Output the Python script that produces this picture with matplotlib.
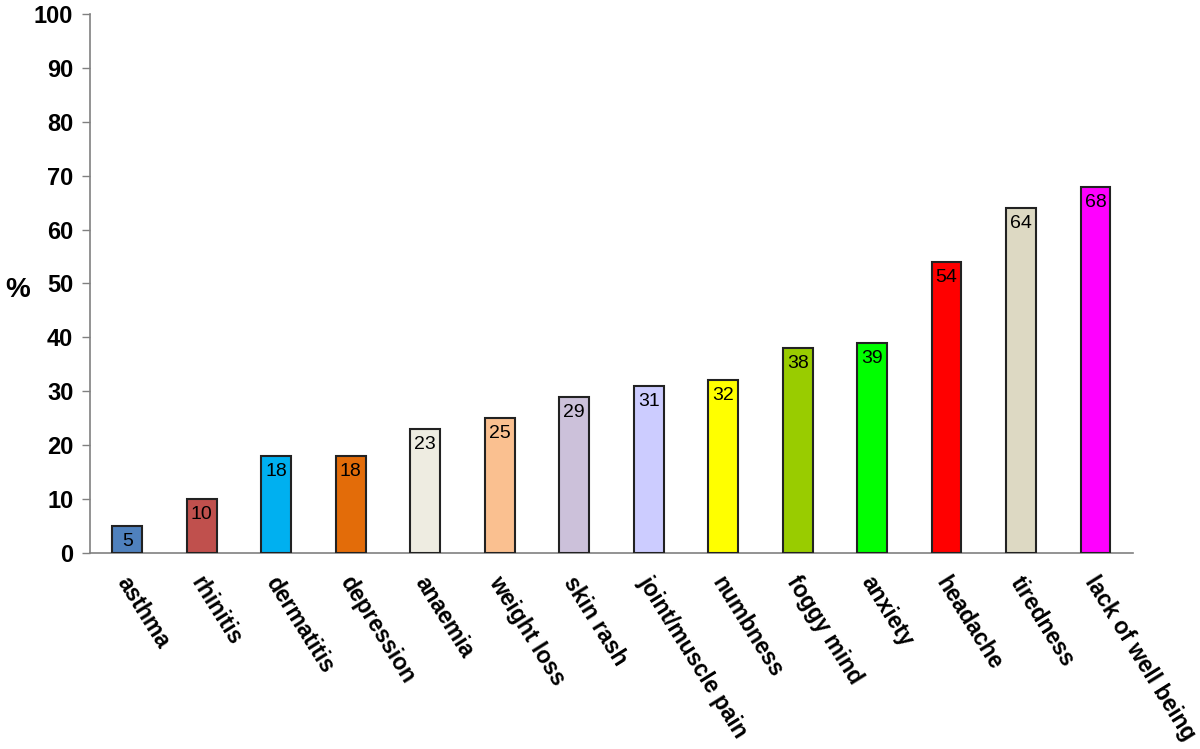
import matplotlib.pyplot as plt
import matplotlib.transforms as mtransforms

# Datos del grafico
sintomas = ['asthma', 'rhinitis', 'dermatitis', 'depression', 'anaemia',
            'weight loss', 'skin rash', 'joint/muscle pain', 'numbness',
            'foggy mind', 'anxiety', 'headache', 'tiredness', 'lack of well being']
porcentajes = [5, 10, 18, 18, 23, 25, 29, 31, 32, 38, 39, 54, 64, 68]
colores = ['#4F81BD', '#C0504D', '#00B0F0', '#E36C09', '#EEECE1', '#FAC090',
           '#CCC1DA', '#CCCCFF', '#FFFF00', '#99CC00', '#00FF00', '#FF0000',
           '#DDD9C3', '#FF00FF']

plt.rcParams['font.family'] = ['Liberation Sans', 'DejaVu Sans']

fig = plt.figure(figsize=(12, 7.49), dpi=100)
ax = fig.add_axes([0.075, 0.262, 0.869, 0.719])

x = range(len(sintomas))
ax.bar(x, porcentajes, width=0.4, color=colores,
       edgecolor='#222222', linewidth=1.5, zorder=3)

for xi, v in zip(x, porcentajes):
    ax.annotate(str(v), (xi, v), xytext=(0, -5), textcoords='offset points',
                ha='center', va='top', fontsize=14, color='black')

ax.set_xlim(-0.5, len(sintomas) - 0.5)
ax.set_ylim(0, 100)
ax.set_yticks(range(0, 101, 10))
ax.tick_params(axis='y', labelsize=17, length=6, color='#808080', width=1, pad=6)
for lbl in ax.get_yticklabels():
    lbl.set_fontweight('bold')

ax.set_xticks(list(x))
ax.set_xticklabels(sintomas, rotation=-58, ha='left', va='top',
                   rotation_mode='anchor', fontsize=16.5, fontweight='bold')
ax.tick_params(axis='x', length=0, pad=14)
# desplazar un poco las etiquetas a la derecha
desplazamiento = mtransforms.ScaledTranslation(0.04, 0, fig.dpi_scale_trans)
for lbl in ax.get_xticklabels():
    lbl.set_transform(lbl.get_transform() + desplazamiento)

for s in ['top', 'right']:
    ax.spines[s].set_visible(False)
for s in ['left', 'bottom']:
    ax.spines[s].set_color('#808080')
    ax.spines[s].set_linewidth(1.2)

fig.text(0.004, 1 - 290 / 749, '%', fontsize=20, fontweight='bold',
         ha='left', va='center')

fig.savefig('out.png', dpi=100)
